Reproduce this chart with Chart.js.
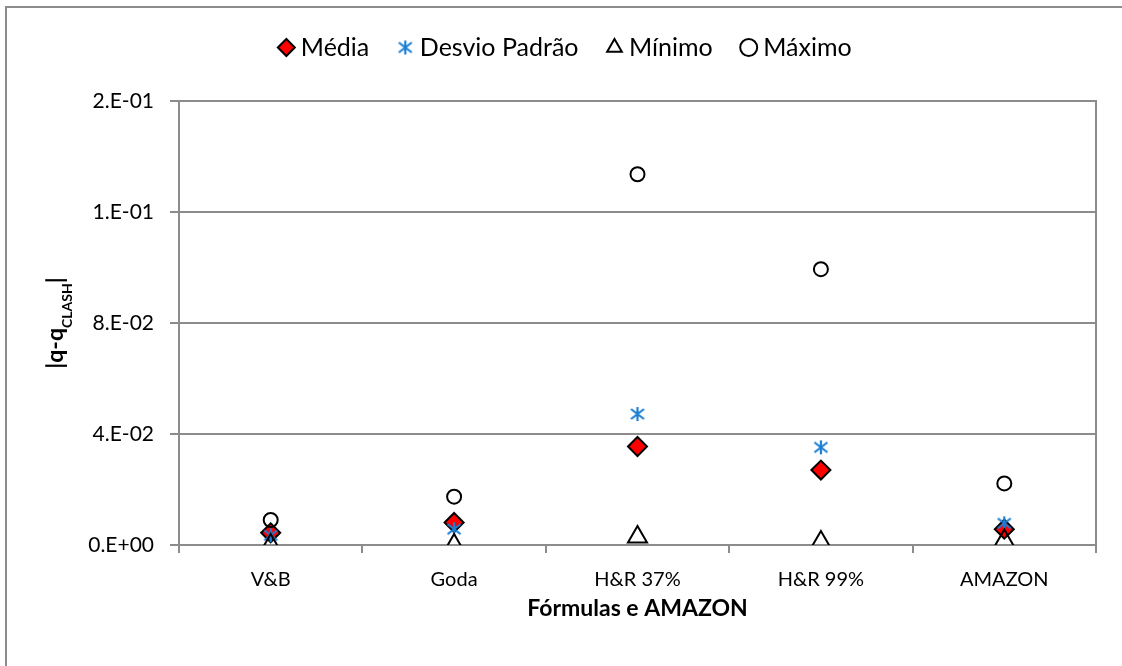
<!DOCTYPE html>
<html>
<head>
<meta charset="utf-8">
<title>|q-qCLASH| - Fórmulas e AMAZON</title>
<script src="https://cdn.jsdelivr.net/npm/chart.js"></script>
<style>
  body { margin: 0; background: #ffffff; }
  #wrap { width: 1122px; height: 666px; }
</style>
</head>
<body>
<div id="wrap"><canvas id="grafico"></canvas></div>
<script>
// dados
const categorias = ['V&B', 'Goda', 'H&R 37%', 'H&R 99%', 'AMAZON'];
const media  = [0.0044, 0.0081, 0.0355, 0.0270, 0.0057];
const desvio = [0.0035, 0.0057, 0.0472, 0.0352, 0.0078];
const minimo = [0.0000, 0.0000, 0.0029, 0.0011, 0.0016];
const maximo = [0.0090, 0.0174, 0.1336, 0.0994, 0.0222];
const yTickLabels = ['0.E+00', '4.E-02', '8.E-02', '1.E-01', '2.E-01'];

const FONTE = 'Lato, "DejaVu Sans", sans-serif';
const CINZA = '#8c8c8c';
const AZUL = '#1a7fd4';

// marcador asterisco estilo Excel
function asterisco() {
  const c = document.createElement('canvas');
  c.width = 16; c.height = 16;
  const g = c.getContext('2d');
  g.strokeStyle = AZUL;
  g.lineWidth = 2.2;
  g.beginPath();
  g.moveTo(8, 1); g.lineTo(8, 15);
  g.moveTo(1.5, 3); g.lineTo(14.5, 13);
  g.moveTo(1.5, 13); g.lineTo(14.5, 3);
  g.stroke();
  return c;
}

// borda externa e título do eixo y com subscrito
const extras = {
  id: 'extras',
  beforeDraw(chart) {
    const ctx = chart.ctx;
    ctx.save();
    ctx.fillStyle = '#fff';
    ctx.fillRect(0, 0, chart.width, chart.height);
    ctx.strokeStyle = CINZA;
    ctx.lineWidth = 2;
    ctx.strokeRect(6, 7, 1140, 700);
    ctx.restore();
  },
  afterDraw(chart) {
    const ctx = chart.ctx;
    const a = chart.chartArea;
    ctx.save();
    ctx.translate(63, (a.top + a.bottom) / 2);
    ctx.rotate(-Math.PI / 2);
    ctx.fillStyle = '#000';
    ctx.textBaseline = 'alphabetic';
    const grande = 'bold 23px ' + FONTE;
    const pequeno = 'bold 14px ' + FONTE;
    ctx.font = grande; const w1 = ctx.measureText('|q-q').width; const w3 = ctx.measureText('|').width;
    ctx.font = pequeno; const w2 = ctx.measureText('CLASH').width;
    let x = -(w1 + w2 + w3) / 2;
    ctx.font = grande; ctx.fillText('|q-q', x, 0); x += w1;
    ctx.font = pequeno; ctx.fillText('CLASH', x, 9); x += w2;
    ctx.font = grande; ctx.fillText('|', x, 0);
    ctx.restore();
  }
};

const ctx = document.getElementById('grafico').getContext('2d');
const chart = new Chart(ctx, {
  type: 'line',
  data: {
    labels: categorias,
    datasets: [
      {
        label: 'Média', data: media, showLine: false, order: 4,
        pointStyle: 'rectRot', pointRadius: 9.5, pointHoverRadius: 9.5,
        backgroundColor: '#ff0000', borderColor: '#000', borderWidth: 2
      },
      {
        label: 'Desvio Padrão', data: desvio, showLine: false, order: 3,
        pointStyle: asterisco(), pointRadius: 8,
        backgroundColor: AZUL, borderColor: AZUL, borderWidth: 2
      },
      {
        label: 'Mínimo', data: minimo, showLine: false, order: 2,
        pointStyle: 'triangle', pointRadius: 11, pointHoverRadius: 11,
        backgroundColor: 'rgba(0,0,0,0)', borderColor: '#000', borderWidth: 2
      },
      {
        label: 'Máximo', data: maximo, showLine: false, order: 1,
        pointStyle: 'circle', pointRadius: 7, pointHoverRadius: 7,
        backgroundColor: 'rgba(0,0,0,0)', borderColor: '#000', borderWidth: 2
      }
    ]
  },
  options: {
    responsive: true,
    maintainAspectRatio: false,
    animation: false,
    layout: { padding: { top: 1, left: 14, right: 0, bottom: 0 } },
    plugins: {
      legend: {
        display: true,
        position: 'top',
        labels: {
          usePointStyle: true,
          boxHeight: 12,
          boxWidth: 4,
          padding: 34,
          color: '#000',
          font: { family: FONTE, size: 25 },
          sort: (a, b) => a.datasetIndex - b.datasetIndex
        }
      },
      // espaço vazio entre legenda e área do gráfico
      subtitle: {
        display: true, text: '', weight: 500,
        font: { size: 10 }, padding: { top: 0, bottom: 19 }
      },
      tooltip: { enabled: false }
    },
    scales: {
      x: {
        offset: true,
        grid: { offset: true, drawOnChartArea: false, drawTicks: true, tickLength: 8, color: CINZA, lineWidth: 2 },
        border: { display: true, color: CINZA, width: 2 },
        ticks: { color: '#000', font: { family: FONTE, size: 20 }, padding: 15, maxRotation: 0 },
        title: {
          display: true, text: 'Fórmulas e AMAZON', color: '#000',
          font: { family: FONTE, size: 23, weight: 'bold' }, padding: { top: 0, bottom: 44 }
        },
        afterFit: s => { s.height = 121; }
      },
      y: {
        min: 0, max: 0.16,
        ticks: {
          stepSize: 0.04, padding: 16, color: '#000',
          font: { family: FONTE, size: 21 },
          callback: (v, i) => yTickLabels[i]
        },
        grid: { color: CINZA, lineWidth: 2, tickLength: 9 },
        border: { display: true, color: CINZA, width: 2 },
        afterFit: s => { s.width = 165; }
      },
      y2: {
        position: 'right',
        grid: { display: false },
        ticks: { display: false },
        border: { display: true, color: CINZA, width: 2 },
        afterFit: s => { s.width = 26; }
      }
    }
  },
  plugins: [extras]
});
</script>
</body>
</html>
